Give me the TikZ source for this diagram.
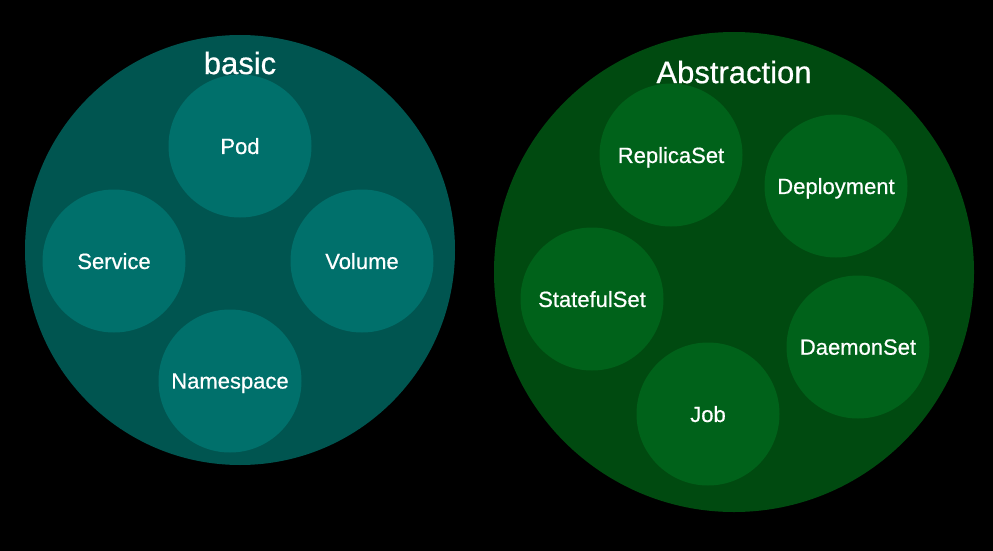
\documentclass[tikz,border=0pt]{standalone}
\usepackage{fontspec}
\setmainfont{Liberation Sans}
\newfontfamily\medfont[FakeBold=0.6]{Liberation Sans}
\definecolor{basicouter}{HTML}{005550}
\definecolor{basicinner}{HTML}{00706B}
\definecolor{absouter}{HTML}{004A10}
\definecolor{absinner}{HTML}{00621A}
\tikzset{
  bigcirc/.style={circle, inner sep=0pt, minimum size=#1},
  small/.style={circle, inner sep=0pt, minimum size=143pt, text=white, text depth=0pt, font=\medfont\fontsize{22}{26}\selectfont},
  title/.style={text=white, font=\medfont\fontsize{31}{36}\selectfont, inner sep=0pt}
}
\begin{document}
\begin{tikzpicture}[x=1pt,y=-1pt]
\fill[black] (0,0) rectangle (993,551);
\useasboundingbox (0,0) rectangle (993,551);
\node[bigcirc=430pt, fill=basicouter] (basic) at (240,250) {};
\node[bigcirc=480pt, fill=absouter] (abs) at (734,272) {};
\node[title] (basiclabel) at (240,63) {basic};
\node[title] (abslabel) at (734,72) {Abstraction};
\node[small, fill=basicinner] (pod) at (240,146) {Pod};
\node[small, fill=basicinner] (service) at (114,261) {Service};
\node[small, fill=basicinner] (volume) at (362,261) {Volume};
\node[small, fill=basicinner] (namespace) at (230,381) {Namespace};
\node[small, fill=absinner] (replicaset) at (671,155) {ReplicaSet};
\node[small, fill=absinner] (deployment) at (836,186) {Deployment};
\node[small, fill=absinner] (statefulset) at (592,299) {StatefulSet};
\node[small, fill=absinner] (daemonset) at (858,347) {DaemonSet};
\node[small, fill=absinner] (job) at (708,414) {Job};
\end{tikzpicture}
\end{document}
